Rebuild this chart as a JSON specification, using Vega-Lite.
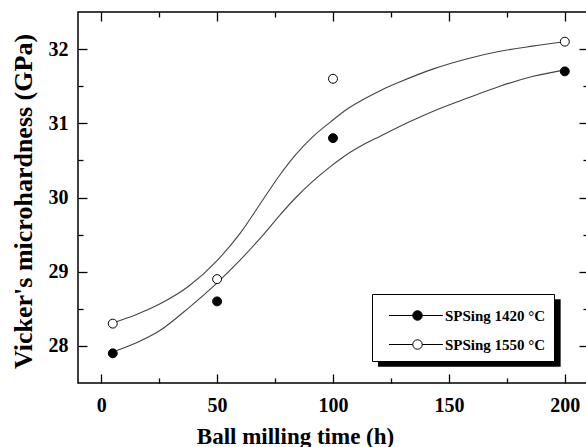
{
  "$schema": "https://vega.github.io/schema/vega-lite/v6.json",
  "width": 510,
  "height": 371,
  "autosize": {"type": "none"},
  "padding": {"left": 78, "top": 12, "right": 0, "bottom": 64},
  "background": "white",
  "config": {
    "font": "Liberation Serif",
    "view": {"stroke": "black", "strokeWidth": 1.5},
    "axis": {
      "domain": false,
      "grid": false,
      "tickColor": "black",
      "tickWidth": 1.3,
      "labelFont": "Liberation Serif",
      "labelFontWeight": "bold",
      "labelFontSize": 20,
      "labelColor": "black",
      "titleFont": "Liberation Serif",
      "titleFontWeight": "bold",
      "titleColor": "black"
    }
  },
  "datasets": {
    "points": [
      {"t": 5, "hv": 27.9, "series": "SPSing 1420 °C"},
      {"t": 50, "hv": 28.6, "series": "SPSing 1420 °C"},
      {"t": 100, "hv": 30.8, "series": "SPSing 1420 °C"},
      {"t": 200, "hv": 31.7, "series": "SPSing 1420 °C"},
      {"t": 5, "hv": 28.3, "series": "SPSing 1550 °C"},
      {"t": 50, "hv": 28.9, "series": "SPSing 1550 °C"},
      {"t": 100, "hv": 31.6, "series": "SPSing 1550 °C"},
      {"t": 200, "hv": 32.1, "series": "SPSing 1550 °C"}
    ],
    "curves": [
      {"t": 5, "hv": 27.92, "series": "SPSing 1420 °C"},
      {"t": 15, "hv": 28.04, "series": "SPSing 1420 °C"},
      {"t": 25, "hv": 28.2, "series": "SPSing 1420 °C"},
      {"t": 38, "hv": 28.52, "series": "SPSing 1420 °C"},
      {"t": 50, "hv": 28.85, "series": "SPSing 1420 °C"},
      {"t": 60, "hv": 29.16, "series": "SPSing 1420 °C"},
      {"t": 70, "hv": 29.5, "series": "SPSing 1420 °C"},
      {"t": 77, "hv": 29.76, "series": "SPSing 1420 °C"},
      {"t": 84, "hv": 30.0, "series": "SPSing 1420 °C"},
      {"t": 91, "hv": 30.21, "series": "SPSing 1420 °C"},
      {"t": 99, "hv": 30.42, "series": "SPSing 1420 °C"},
      {"t": 106, "hv": 30.58, "series": "SPSing 1420 °C"},
      {"t": 113, "hv": 30.71, "series": "SPSing 1420 °C"},
      {"t": 120, "hv": 30.82, "series": "SPSing 1420 °C"},
      {"t": 133, "hv": 31.02, "series": "SPSing 1420 °C"},
      {"t": 143, "hv": 31.16, "series": "SPSing 1420 °C"},
      {"t": 158, "hv": 31.34, "series": "SPSing 1420 °C"},
      {"t": 172, "hv": 31.5, "series": "SPSing 1420 °C"},
      {"t": 186, "hv": 31.63, "series": "SPSing 1420 °C"},
      {"t": 200, "hv": 31.72, "series": "SPSing 1420 °C"},
      {"t": 5, "hv": 28.31, "series": "SPSing 1550 °C"},
      {"t": 15, "hv": 28.42, "series": "SPSing 1550 °C"},
      {"t": 25, "hv": 28.56, "series": "SPSing 1550 °C"},
      {"t": 38, "hv": 28.81, "series": "SPSing 1550 °C"},
      {"t": 50, "hv": 29.15, "series": "SPSing 1550 °C"},
      {"t": 60, "hv": 29.52, "series": "SPSing 1550 °C"},
      {"t": 70, "hv": 29.98, "series": "SPSing 1550 °C"},
      {"t": 77, "hv": 30.3, "series": "SPSing 1550 °C"},
      {"t": 84, "hv": 30.58, "series": "SPSing 1550 °C"},
      {"t": 91, "hv": 30.81, "series": "SPSing 1550 °C"},
      {"t": 99, "hv": 31.02, "series": "SPSing 1550 °C"},
      {"t": 106, "hv": 31.19, "series": "SPSing 1550 °C"},
      {"t": 113, "hv": 31.32, "series": "SPSing 1550 °C"},
      {"t": 121, "hv": 31.45, "series": "SPSing 1550 °C"},
      {"t": 129, "hv": 31.56, "series": "SPSing 1550 °C"},
      {"t": 143, "hv": 31.73, "series": "SPSing 1550 °C"},
      {"t": 158, "hv": 31.87, "series": "SPSing 1550 °C"},
      {"t": 172, "hv": 31.97, "series": "SPSing 1550 °C"},
      {"t": 186, "hv": 32.04, "series": "SPSing 1550 °C"},
      {"t": 200, "hv": 32.1, "series": "SPSing 1550 °C"}
    ]
  },
  "layer": [
    {
      "data": {"values": [{"box": "shadow"}]},
      "mark": {"type": "rect", "fill": "black"},
      "encoding": {
        "x": {"datum": 119.4, "type": "quantitative", "scale": {"domain": [-10, 210], "nice": false}, "axis": null},
        "x2": {"datum": 198.2},
        "y": {"datum": 28.628, "type": "quantitative", "scale": {"domain": [27.5, 32.5], "nice": false, "zero": false}, "axis": null},
        "y2": {"datum": 27.72}
      }
    },
    {
      "data": {"name": "curves"},
      "mark": {"type": "line", "interpolate": "monotone", "stroke": "#444444", "strokeWidth": 1.1},
      "encoding": {
        "x": {
          "field": "t", "type": "quantitative",
          "scale": {"domain": [-10, 210], "nice": false},
          "axis": {
            "orient": "bottom",
            "values": [0, 25, 50, 75, 100, 125, 150, 175, 200],
            "labelExpr": "datum.value % 50 === 0 ? datum.label : ''",
            "tickSize": {"condition": {"test": "datum.value % 50 === 0", "value": -9}, "value": -5},
            "labelPadding": 21,
            "title": "Ball milling time (h)",
            "titleFontSize": 23,
            "titleX": 217,
            "titleY": 60,
            "titleBaseline": "alphabetic",
            "titleAlign": "center"
          }
        },
        "y": {
          "field": "hv", "type": "quantitative",
          "scale": {"domain": [27.5, 32.5], "nice": false, "zero": false},
          "axis": {
            "orient": "left",
            "values": [28, 28.5, 29, 29.5, 30, 30.5, 31, 31.5, 32],
            "labelExpr": "datum.value % 1 === 0 ? format(datum.value, 'd') : ''",
            "tickSize": {"condition": {"test": "datum.value % 1 === 0", "value": -9}, "value": -5},
            "labelPadding": 19,
            "title": "Vicker's microhardness (GPa)",
            "titleFontSize": 26,
            "titleAngle": -90,
            "titleX": -47,
            "titleY": 189,
            "titleBaseline": "alphabetic",
            "titleAlign": "center"
          }
        },
        "detail": {"field": "series"}
      }
    },
    {
      "data": {"name": "points"},
      "mark": {"type": "point", "shape": "circle", "filled": true, "stroke": "black", "strokeWidth": 1, "size": 80, "opacity": 1},
      "encoding": {
        "x": {
          "field": "t", "type": "quantitative",
          "scale": {"domain": [-10, 210], "nice": false},
          "axis": {
            "orient": "top",
            "values": [0, 25, 50, 75, 100, 125, 150, 175, 200],
            "labels": false,
            "title": null,
            "tickSize": {"condition": {"test": "datum.value % 50 === 0", "value": -9}, "value": -5}
          }
        },
        "y": {
          "field": "hv", "type": "quantitative",
          "scale": {"domain": [27.5, 32.5], "nice": false, "zero": false},
          "axis": {
            "orient": "right",
            "values": [28, 28.5, 29, 29.5, 30, 30.5, 31, 31.5, 32],
            "labels": false,
            "title": null,
            "tickSize": {"condition": {"test": "datum.value % 1 === 0", "value": -9}, "value": -5}
          }
        },
        "fill": {
          "field": "series", "type": "nominal",
          "scale": {"domain": ["SPSing 1420 °C", "SPSing 1550 °C"], "range": ["black", "white"]},
          "legend": {
            "orient": "none",
            "legendX": 294,
            "legendY": 282,
            "title": null,
            "strokeColor": "black",
            "fillColor": "white",
            "padding": 8,
            "symbolType": "M-0.346,0H1.481M2.211,0H3.8M1.481,0A0.365,0.365,0,1,1,2.211,0A0.365,0.365,0,1,1,1.481,0Z",
            "symbolSize": 676,
            "symbolStrokeColor": "black",
            "symbolStrokeWidth": 1,
            "labelFont": "Liberation Serif",
            "labelFontSize": 15,
            "labelFontWeight": "bold",
            "labelColor": "black",
            "labelOffset": 38,
            "rowPadding": 7
          }
        }
      }
    }
  ],
  "resolve": {"axis": {"x": "independent", "y": "independent"}}
}
